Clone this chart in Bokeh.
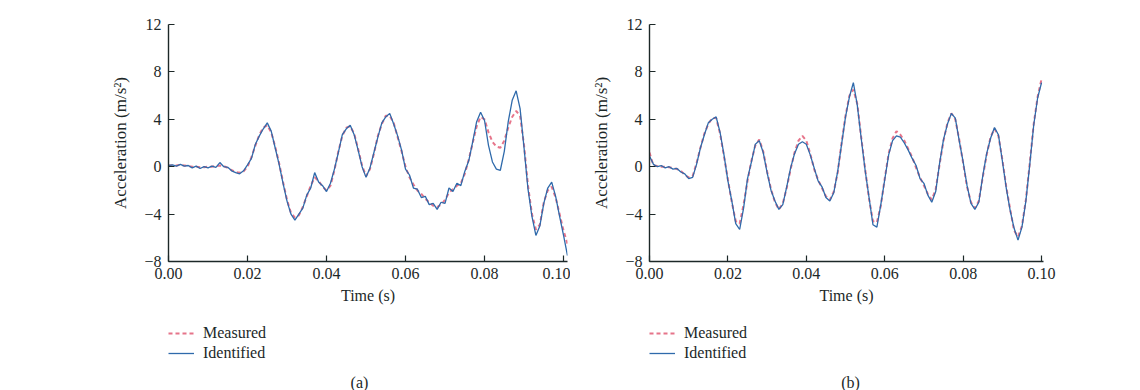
from bokeh.plotting import figure
from bokeh.layouts import row, column
from bokeh.models import FixedTicker, NumeralTickFormatter, Legend, LegendItem, Label
from bokeh.embed import file_html
from bokeh.resources import INLINE

# ---------------- data ----------------
# time grid (s), one sample per millisecond
t_a = [i / 1000 for i in range(102)]
t_b = [i / 1000 for i in range(101)]

meas_a = [0.1, 0.1, 0.1, 0.15, 0.1, 0.05, 0.0, 0.0, -0.05, -0.05,
          0.0, 0.0, 0.05, 0.1, 0.05, -0.1, -0.3, -0.45, -0.5, -0.4,
          0.0, 0.8, 1.8, 2.7, 3.3, 3.5, 2.9, 1.7, 0.3, -1.3,
          -2.8, -3.9, -4.3, -4.1, -3.4, -2.5, -1.6, -0.9, -1.2, -1.7,
          -2.0, -1.6, -0.3, 1.3, 2.6, 3.3, 3.4, 2.8, 1.5, 0.1,
          -0.8, -0.2, 1.1, 2.6, 3.6, 4.3, 4.3, 3.7, 2.5, 1.3,
          0.0, -0.9, -1.5, -2.0, -2.3, -2.7, -3.0, -3.3, -3.4, -3.2,
          -2.8, -2.2, -1.9, -1.6, -1.4, -0.6, 0.6, 2.0, 3.4, 4.2,
          4.0, 2.9, 2.1, 1.7, 1.6, 2.2, 3.3, 4.2, 4.7, 4.3,
          1.8, -1.6, -4.0, -5.3, -4.9, -3.0, -2.0, -1.7, -2.6, -4.0,
          -5.4, -6.5]
ident_a = [0.1, 0.15, 0.05, 0.2, 0.05, 0.1, -0.1, 0.05, -0.15, 0.0,
           -0.1, 0.05, -0.05, 0.35, 0.0, -0.05, -0.35, -0.5, -0.6, -0.35,
           0.15, 0.7, 1.9, 2.6, 3.2, 3.7, 3.0, 1.6, 0.2, -1.4,
           -2.9, -4.0, -4.5, -4.0, -3.5, -2.4, -1.8, -0.5, -1.3, -1.6,
           -2.1, -1.4, -0.2, 1.2, 2.7, 3.2, 3.5, 2.7, 1.4, 0.0,
           -0.9, -0.1, 1.2, 2.5, 3.7, 4.2, 4.5, 3.6, 2.6, 1.4,
           -0.2, -0.7, -1.8, -1.9, -2.6, -2.5, -3.2, -3.1, -3.6, -3.0,
           -3.1, -1.8, -2.1, -1.4, -1.6, -0.4, 0.5, 2.1, 3.8, 4.6,
           3.9, 1.8, 0.4, -0.2, -0.3, 1.3, 3.8, 5.6, 6.4, 4.9,
           1.6, -1.9, -4.2, -5.8, -5.0, -3.1, -1.8, -1.3, -2.5, -4.2,
           -5.8, -7.5]

meas_b = [1.2, 0.1, 0.05, 0.0, 0.0, -0.05, -0.1, -0.2, -0.35, -0.7,
          -0.9, -0.8, 0.3, 1.6, 2.8, 3.6, 4.1, 4.1, 2.8, 0.9,
          -1.1, -3.0, -4.6, -4.8, -3.2, -1.2, 0.5, 1.8, 2.3, 1.3,
          -0.4, -1.9, -3.0, -3.6, -3.1, -1.8, -0.2, 1.2, 2.2, 2.6,
          2.2, 1.1, -0.2, -1.1, -1.8, -2.5, -2.8, -2.1, -0.5, 2.0,
          4.3, 6.0, 6.5, 5.3, 2.5, -0.2, -2.7, -4.6, -4.7, -3.3,
          -1.0, 1.1, 2.4, 3.0, 2.7, 2.2, 1.5, 0.8, -0.1, -0.9,
          -1.6, -2.3, -2.8, -1.9, 0.2, 2.2, 3.7, 4.5, 4.0, 2.3,
          0.3, -1.7, -3.0, -3.5, -2.9, -0.9, 1.0, 2.5, 3.2, 2.6,
          0.6, -1.7, -3.6, -5.4, -5.9, -5.0, -2.8, 0.3, 3.6, 5.9,
          7.4]
ident_b = [0.9, 0.2, 0.0, 0.1, -0.1, 0.0, -0.2, -0.15, -0.45, -0.6,
           -1.0, -0.9, 0.2, 1.6, 2.7, 3.7, 4.0, 4.2, 2.9, 1.0,
           -1.2, -2.9, -4.8, -5.3, -3.5, -1.0, 0.4, 1.9, 2.2, 1.2,
           -0.5, -2.0, -2.9, -3.6, -3.2, -1.7, -0.1, 1.1, 1.9, 2.1,
           1.9, 1.0, -0.1, -1.2, -1.7, -2.6, -2.9, -2.2, -0.4, 1.9,
           4.2, 5.9, 7.1, 5.2, 2.4, -0.3, -2.6, -4.9, -5.1, -3.2,
           -1.1, 1.0, 2.2, 2.6, 2.5, 2.0, 1.4, 0.7, 0.1, -1.0,
           -1.4, -2.4, -3.0, -2.1, 0.3, 2.3, 3.6, 4.5, 4.1, 2.2,
           0.4, -1.6, -3.1, -3.6, -3.0, -0.8, 1.1, 2.4, 3.3, 2.7,
           0.5, -1.8, -3.7, -5.2, -6.2, -5.1, -2.9, 0.2, 3.5, 5.8,
           7.1]

x_ticks = [0.0, 0.02, 0.04, 0.06, 0.08, 0.10]
y_ticks = [-8, -4, 0, 4, 8, 12]
y_tick_labels = ["\u22128", "\u22124", "0", "4", "8", "12"]
series_names = ["Measured", "Identified"]
x_title = "Time (s)"
y_title = "Acceleration (m/s\u00b2)"

# ---------------- style ----------------
FONT = "Liberation Serif"
TXT = "#1c2828"
RED = "#e25c76"
BLUE = "#2f6aab"
MAIN_H = 310
FOOT_H = 80


def line_style(kind):
    if kind == "meas":
        return dict(line_color=RED, line_width=2.0, line_dash="4 3", line_alpha=0.85)
    return dict(line_color=BLUE, line_width=1.3)


def make_panel(t, meas, ident, left, frame_w, right, xend, tag, tag_x):
    width = left + frame_w + right
    p = figure(width=width, height=MAIN_H,
               x_range=(0, xend), y_range=(-8, 12),
               output_backend="svg", toolbar_location=None,
               min_border_left=left, min_border_right=right,
               min_border_top=24, min_border_bottom=MAIN_H - 261)
    p.outline_line_color = None
    p.grid.visible = False
    p.background_fill_color = None
    p.border_fill_color = None

    p.line(t, meas, **line_style("meas"))
    p.line(t, ident, **line_style("ident"))

    for ax in (p.xaxis[0], p.yaxis[0]):
        ax.axis_line_color = TXT
        ax.axis_line_width = 1.4
        ax.major_tick_line_color = TXT
        ax.major_tick_line_width = 1.2
        ax.major_tick_in = 6
        ax.major_tick_out = 0
        ax.minor_tick_line_color = None
        ax.major_label_text_font = FONT
        ax.major_label_text_font_size = "16px"
        ax.major_label_text_color = TXT
        ax.axis_label_text_font = FONT
        ax.axis_label_text_font_style = "normal"
        ax.axis_label_text_color = TXT

    p.xaxis.ticker = FixedTicker(ticks=x_ticks)
    p.xaxis.formatter = NumeralTickFormatter(format="0.00")
    p.xaxis.major_label_standoff = 6
    p.xaxis.axis_label = x_title
    p.xaxis.axis_label_text_font_size = "16px"
    p.xaxis.axis_label_standoff = 5

    p.yaxis.ticker = FixedTicker(ticks=y_ticks)
    p.yaxis.major_label_overrides = {v: s for v, s in zip(y_ticks, y_tick_labels)}
    p.yaxis.major_label_standoff = 7
    p.yaxis.axis_label = y_title
    p.yaxis.axis_label_text_font_size = "17px"
    p.yaxis.axis_label_standoff = 11

    # footer under the plot (its frame lines up with the plot frame)
    f = figure(width=width, height=FOOT_H, x_range=(0, frame_w), y_range=(0, FOOT_H),
               output_backend="svg", toolbar_location=None,
               x_axis_type=None, y_axis_type=None,
               min_border_left=left, min_border_right=right,
               min_border_top=0, min_border_bottom=0)
    f.outline_line_color = None
    f.grid.visible = False
    f.background_fill_color = None
    f.border_fill_color = None
    # legend proxies: first sample of each series (a single point draws no line)
    rm = f.line(t[:1], meas[:1], **line_style("meas"))
    ri = f.line(t[:1], ident[:1], **line_style("ident"))
    legend = Legend(items=[LegendItem(label=series_names[0], renderers=[rm]),
                           LegendItem(label=series_names[1], renderers=[ri])],
                    location=(0, 27), padding=0, margin=0, spacing=0,
                    glyph_width=26, glyph_height=20, label_height=20,
                    label_standoff=9,
                    label_text_font=FONT, label_text_font_size="16px",
                    label_text_color=TXT,
                    border_line_color=None, background_fill_alpha=0)
    f.add_layout(legend, "center")
    f.add_layout(Label(x=tag_x, y=8, text=tag, text_font=FONT,
                       text_font_size="16px", text_color=TXT,
                       text_align="center", text_baseline="middle"))
    return column(p, f, spacing=0)


pa = make_panel(t_a, meas_a, ident_a, left=168, frame_w=399, right=3,
                xend=0.1010, tag="(a)", tag_x=191)
pb = make_panel(t_b, meas_b, ident_b, left=79, frame_w=394, right=97,
                xend=0.1005, tag="(b)", tag_x=201)

layout = row(pa, pb, spacing=0)
open("out.html", "w").write(file_html(layout, INLINE))
